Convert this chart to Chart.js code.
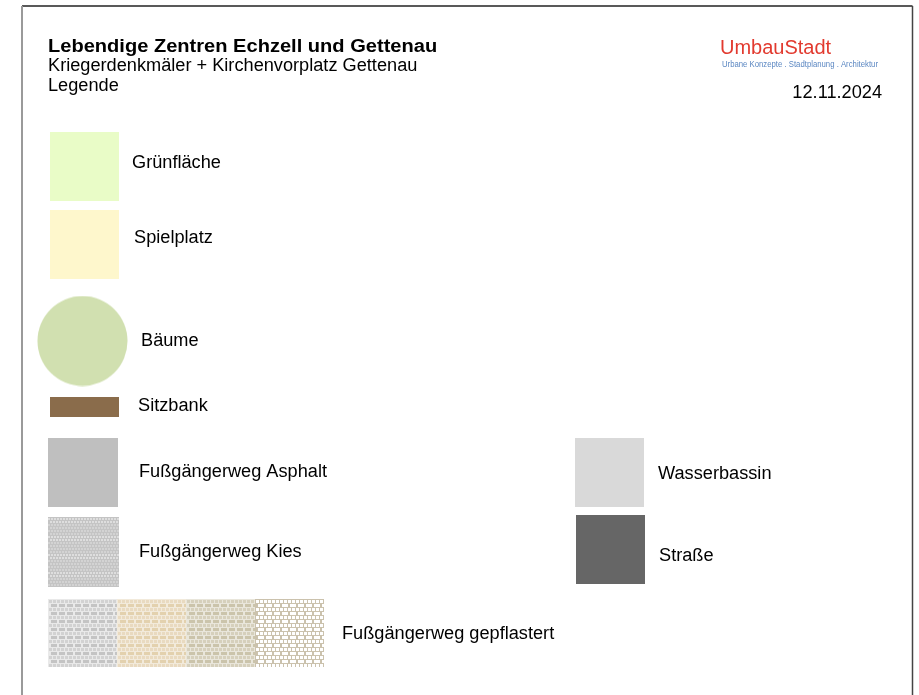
<!DOCTYPE html>
<html>
<head>
<meta charset="utf-8">
<script src="https://cdn.jsdelivr.net/npm/chart.js@4.4.0/dist/chart.umd.min.js"></script>
<style>
  html, body { margin: 0; padding: 0; background: #fff; }
  canvas { display: block; }
</style>
</head>
<body>
<canvas id="myChart" width="919" height="695"></canvas>
<script>
// legend entries
const categories = ['Grünfläche', 'Spielplatz', 'Bäume', 'Sitzbank', 'Fußgängerweg Asphalt',
  'Fußgängerweg Kies', 'Fußgängerweg gepflastert', 'Wasserbassin', 'Straße'];
const swatchKinds = ['fill', 'fill', 'circle', 'fill', 'fill', 'kies', 'pflaster', 'fill', 'fill'];
const swatchColors = ['#e9fcc7', '#fef7cc', '#d1e0b0', '#8a6c4b', '#bfbfbf', '#c4c4c4', '#c4c4c4', '#d9d9d9', '#666666'];

const titleText = 'Lebendige Zentren Echzell und Gettenau';
const subtitleText = 'Kriegerdenkmäler + Kirchenvorplatz Gettenau';
const legendText = 'Legende';
const logoText = 'UmbauStadt';
const logoTagline = 'Urbane Konzepte . Stadtplanung . Architektur';
const dateText = '12.11.2024';

// page layout (pixel units of the page, used through the scales)
const layout = [
  { cx: 84.5, cy: 166.5, w: 69, h: 69, lx: 132, ly: 163 },
  { cx: 84.5, cy: 244.5, w: 69, h: 69, lx: 134, ly: 238 },
  { cx: 82.5, cy: 341,   w: 91, h: 91, lx: 141, ly: 341 },
  { cx: 84.5, cy: 407,   w: 69, h: 20, lx: 138, ly: 406 },
  { cx: 83,   cy: 472.5, w: 70, h: 69, lx: 139, ly: 472 },
  { cx: 83.5, cy: 552,   w: 71, h: 70, lx: 139, ly: 552 },
  { cx: 186,  cy: 633,   w: 276, h: 68, lx: 342, ly: 634 },
  { cx: 609.5, cy: 472.5, w: 69, h: 69, lx: 658, ly: 474 },
  { cx: 610.5, cy: 549.5, w: 69, h: 69, lx: 659, ly: 556 }
];
const textStretch = 1.01;

function makeSwatch(kind, color, w, h) {
  const c = document.createElement('canvas');
  c.width = w; c.height = h;
  const g = c.getContext('2d');
  if (kind === 'circle') {
    g.fillStyle = color;
    g.beginPath();
    g.arc(w / 2, h / 2, w / 2 - 0.5, 0, Math.PI * 2);
    g.fill();
  } else if (kind === 'kies') {
    g.fillStyle = color;
    g.fillRect(0, 0, w, h);
    for (let y = 1, r = 0; y < h; y += 3, r++) {
      for (let x = (r % 2) * 1.5; x < w; x += 3) {
        g.fillStyle = (r + Math.round(x)) % 3 === 0 ? '#dedede' : '#d3d3d3';
        g.fillRect(Math.round(x), y, 2, 2);
      }
    }
  } else if (kind === 'pflaster') {
    const segs = [
      { mortar: '#e9e9e9', brick: '#c4c4c4', light: '#d2d2d2' },
      { mortar: '#f2eadb', brick: '#e3d1ae', light: '#e9dac0' },
      { mortar: '#e9e6db', brick: '#cbc4ab', light: '#d6d0bc' },
      { mortar: '#cbc2ad', brick: '#ffffff', light: '#ffffff' }
    ];
    const sw = w / segs.length;
    segs.forEach((s, i) => {
      const x0 = Math.round(i * sw), x1 = Math.round((i + 1) * sw);
      g.save();
      g.beginPath(); g.rect(x0, 0, x1 - x0, h); g.clip();
      g.fillStyle = s.mortar;
      g.fillRect(x0, 0, x1 - x0, h);
      for (let y = 1, r = 0; y < h; y += 4, r++) {
        const short = r % 2 === 0;
        const pitch = short ? 4 : 8;
        g.fillStyle = short ? s.light : s.brick;
        for (let x = x0 + 1 + (short ? 0 : 2); x < x1; x += pitch) {
          g.fillRect(x, y, short ? 3 : 6, 3);
        }
      }
      g.restore();
    });
  } else {
    g.fillStyle = color;
    g.fillRect(0, 0, w, h);
  }
  return c;
}

const swatches = categories.map((c, i) => makeSwatch(swatchKinds[i], swatchColors[i], layout[i].w, layout[i].h));

// text drawn with a slight horizontal stretch like the scanned page
function drawText(ctx, text, x, y, font, sx, align) {
  ctx.save();
  ctx.font = font;
  ctx.translate(x, y);
  ctx.scale(sx, 1);
  ctx.textAlign = align || 'left';
  ctx.fillText(text, 0, 0);
  ctx.restore();
}

const pagePlugin = {
  id: 'page',
  beforeDraw(chart) {
    const ctx = chart.ctx;
    const xs = chart.scales.x, ys = chart.scales.y;
    ctx.save();
    ctx.fillStyle = '#fff';
    ctx.fillRect(0, 0, chart.width, chart.height);
    ctx.lineWidth = 1.5;
    ctx.strokeStyle = '#222';
    ctx.beginPath();
    ctx.moveTo(xs.getPixelForValue(22), ys.getPixelForValue(6));
    ctx.lineTo(xs.getPixelForValue(912.5), ys.getPixelForValue(6));
    ctx.stroke();
    ctx.strokeStyle = '#444';
    ctx.beginPath();
    ctx.moveTo(xs.getPixelForValue(912.5), ys.getPixelForValue(6));
    ctx.lineTo(xs.getPixelForValue(912.5), ys.getPixelForValue(695));
    ctx.stroke();
    ctx.strokeStyle = '#9a9a9a';
    ctx.lineWidth = 2;
    ctx.beginPath();
    ctx.moveTo(xs.getPixelForValue(22), ys.getPixelForValue(6));
    ctx.lineTo(xs.getPixelForValue(22), ys.getPixelForValue(695));
    ctx.stroke();
    ctx.restore();
  },
  afterDatasetsDraw(chart) {
    const ctx = chart.ctx;
    const xs = chart.scales.x, ys = chart.scales.y;
    const reg = '18px "Liberation Sans", Arial, sans-serif';
    ctx.save();
    ctx.fillStyle = '#000';
    ctx.textBaseline = 'alphabetic';
    drawText(ctx, titleText, xs.getPixelForValue(48), ys.getPixelForValue(52),
      'bold 18px "Liberation Sans", Arial, sans-serif', 1.115);
    drawText(ctx, subtitleText, xs.getPixelForValue(48), ys.getPixelForValue(71), reg, textStretch);
    drawText(ctx, legendText, xs.getPixelForValue(48), ys.getPixelForValue(91), reg, textStretch);

    ctx.fillStyle = '#e23a2f';
    ctx.textAlign = 'left';
    ctx.font = '20px "Liberation Sans", Arial, sans-serif';
    ctx.fillText(logoText, xs.getPixelForValue(720), ys.getPixelForValue(54), 113);
    ctx.fillStyle = '#5b87c2';
    ctx.font = '9px "Liberation Sans Narrow", "Liberation Sans", Arial, sans-serif';
    ctx.fillText(logoTagline, xs.getPixelForValue(722), ys.getPixelForValue(67), 156);

    ctx.fillStyle = '#000';
    drawText(ctx, dateText, xs.getPixelForValue(882), ys.getPixelForValue(98), reg, textStretch, 'right');

    ctx.textBaseline = 'middle';
    categories.forEach((label, i) => {
      drawText(ctx, label, xs.getPixelForValue(layout[i].lx), ys.getPixelForValue(layout[i].ly), reg, textStretch);
    });
    ctx.restore();
  }
};

const ctx = document.getElementById('myChart').getContext('2d');

const graphData = {
  type: 'scatter',
  data: {
    labels: categories,
    datasets: [{
      label: 'Legende',
      data: layout.map(p => ({ x: p.cx, y: p.cy })),
      pointStyle: swatches,
      pointRadius: 1,
      hoverRadius: 0,
      borderWidth: 0
    }]
  },
  options: {
    responsive: false,
    animation: false,
    devicePixelRatio: 1,
    events: [],
    layout: { padding: 0, autoPadding: false },
    plugins: {
      legend: { display: false },
      tooltip: { enabled: false }
    },
    scales: {
      x: { type: 'linear', min: 0, max: 919, display: false },
      y: { type: 'linear', min: 0, max: 695, reverse: true, display: false }
    }
  },
  plugins: [pagePlugin]
};

const myChart = new Chart(ctx, graphData);
</script>
</body>
</html>
